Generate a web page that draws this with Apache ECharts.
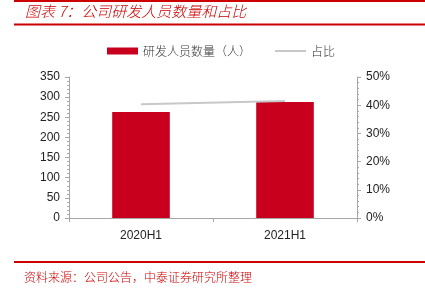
<!DOCTYPE html>
<html><head><meta charset="utf-8">
<script src="https://cdn.jsdelivr.net/npm/echarts@6/dist/echarts.min.js"></script>
<style>html,body{margin:0;padding:0;background:#fff}#c{width:425px;height:292px}</style>
</head><body><div id="c"></div>
<script>
var categories = ['2020H1', '2021H1'];
var staffCount = [263, 288];
var staffShare = [40.3, 41.5];
var leftTicks = [0, 50, 100, 150, 200, 250, 300, 350];
var rightTicks = ['0%', '10%', '20%', '30%', '40%', '50%'];

var chart = echarts.init(document.getElementById('c'));
var red = '#c8001e';
var axisGray = '#a6a6a6';
chart.setOption({
  animation: false,
  textStyle: { fontFamily: 'Liberation Sans, Arial, sans-serif' },
  graphic: [
    { type: 'line', shape: { x1: 14, y1: 1, x2: 425, y2: 1 }, style: { stroke: '#cc0000', lineWidth: 2 } },
    { type: 'text', left: 25, top: 4, style: { text: '图表 7：公司研发人员数量和占比', fill: '#cc0000', font: 'italic 300 15px "Noto Sans CJK SC"' } },
    { type: 'line', shape: { x1: 14, y1: 24.5, x2: 425, y2: 24.5 }, style: { stroke: '#cc0000', lineWidth: 2 } },
    { type: 'line', shape: { x1: 14, y1: 262, x2: 425, y2: 262 }, style: { stroke: '#cc0000', lineWidth: 2 } },
    { type: 'text', left: 24, top: 271, style: { text: '资料来源：公司公告，中泰证券研究所整理', fill: '#cc0000', font: '300 12px "Noto Sans CJK SC"' } }
  ],
  legend: {
    top: 40, left: 102, itemWidth: 31, itemHeight: 7, itemGap: 24,
    textStyle: { fontFamily: 'Noto Sans CJK SC', fontSize: 12, color: '#333', fontWeight: 300 },
    data: [
      { name: '研发人员数量（人）', icon: 'rect' },
      { name: '占比', icon: 'path://M0,0H31V2H0Z', itemStyle: { color: '#c8c8c8' } }
    ]
  },
  grid: { left: 69, right: 68, top: 77, bottom: 74 },
  xAxis: {
    type: 'category', data: categories,
    axisLine: { lineStyle: { color: axisGray } },
    axisTick: { show: true, length: 4, lineStyle: { color: axisGray } },
    axisLabel: { color: '#222', fontSize: 12, margin: 12 }
  },
  yAxis: [
    {
      type: 'value', min: 0, max: 350, interval: 50,
      axisLine: { show: true, lineStyle: { color: axisGray } },
      axisTick: { show: true, length: 4, lineStyle: { color: axisGray } },
      minorTick: { show: true, splitNumber: 5, length: 2, lineStyle: { color: axisGray } },
      splitLine: { show: false },
      axisLabel: { color: '#222', fontSize: 12, margin: 9 }
    },
    {
      type: 'value', min: 0, max: 50, interval: 10,
      axisLine: { show: true, lineStyle: { color: axisGray } },
      axisTick: { show: true, length: 4, lineStyle: { color: axisGray } },
      minorTick: { show: true, splitNumber: 5, length: 2, lineStyle: { color: axisGray } },
      splitLine: { show: false },
      axisLabel: { color: '#222', fontSize: 12, margin: 9, formatter: function (v) { return rightTicks[v / 10]; } }
    }
  ],
  series: [
    { name: '研发人员数量（人）', type: 'bar', data: staffCount, barWidth: '40%', itemStyle: { color: red } },
    { name: '占比', type: 'line', yAxisIndex: 1, data: staffShare, symbol: 'none', lineStyle: { color: '#c8c8c8', width: 2 }, itemStyle: { color: '#c8c8c8' } }
  ]
});
</script></body></html>
